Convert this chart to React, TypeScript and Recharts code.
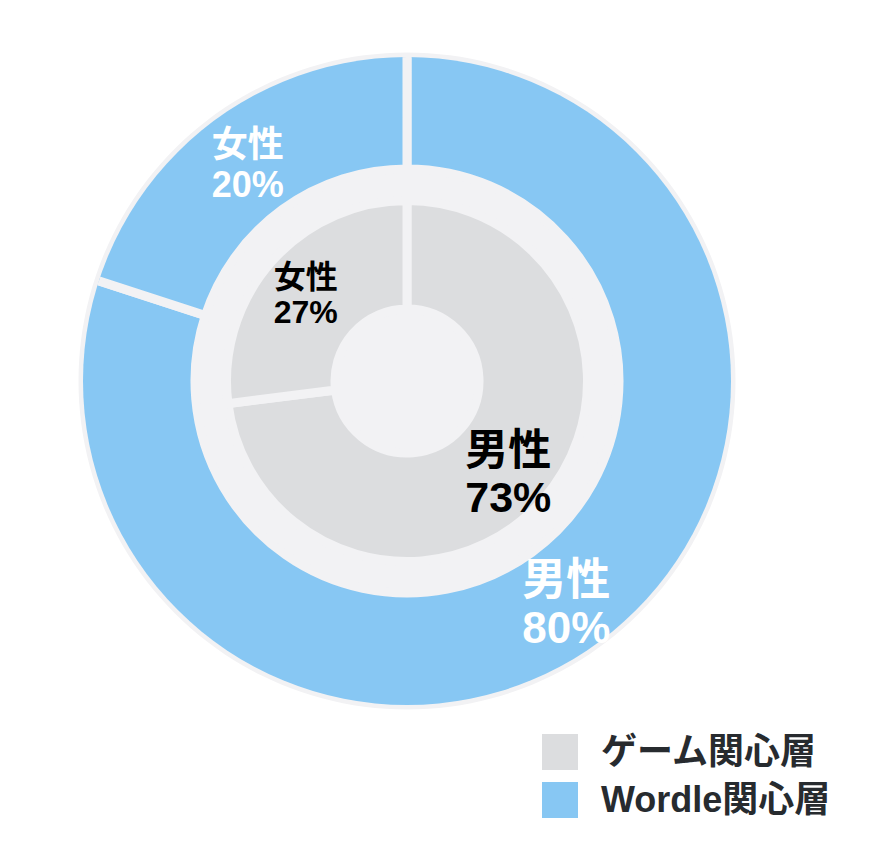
import { PieChart, Pie, Cell } from 'recharts';

// data
const genders = ['男性', '女性'];
const gameShare = [73, 27];
const wordleShare = [80, 20];
const seriesNames = ['ゲーム関心層', 'Wordle関心層'];

const gameData = genders.map((name, i) => ({ name, value: gameShare[i] }));
const wordleData = genders.map((name, i) => ({ name, value: wordleShare[i] }));

const CX = 407;
const CY = 381;
const BG = '#F2F2F4';
const GAP = 9;
const FONT = '"Liberation Sans", "Noto Sans CJK JP", sans-serif';
const RADIAN = Math.PI / 180;

const colors = { game: '#DCDDDF', wordle: '#87C7F3' };

// per ring label look: radius, text colour, font size per slice
const labelStyle = {
  game: { r: 135, fill: '#000000', sizes: [43, 32] },
  wordle: { r: 271, fill: '#FFFFFF', sizes: [44, 36] },
};

const makeLabel = (ring: 'game' | 'wordle') => (props: any) => {
  const { cx, cy, midAngle, index, name, value } = props;
  const st = labelStyle[ring];
  const x = cx + st.r * Math.cos(-midAngle * RADIAN);
  const y = cy + st.r * Math.sin(-midAngle * RADIAN);
  return (
    <text
      x={x}
      y={y}
      textAnchor="middle"
      fill={st.fill}
      fontSize={st.sizes[index]}
      fontWeight={700}
      fontFamily={FONT}
    >
      <tspan x={x} dy="-0.13em">
        {name}
      </tspan>
      <tspan x={x} dy="1.1em">
        {value}%
      </tspan>
    </text>
  );
};

const Legend = () => (
  <div style={{ position: 'absolute', left: 542, top: 734, fontFamily: FONT }}>
    {seriesNames.map((s, i) => (
      <div
        key={s}
        style={{ display: 'flex', alignItems: 'center', height: 36, marginBottom: 12 }}
      >
        <div
          style={{
            width: 36,
            height: 36,
            background: i === 0 ? colors.game : colors.wordle,
          }}
        />
        <span
          style={{
            marginLeft: 23,
            fontSize: 36,
            lineHeight: '36px',
            fontWeight: 700,
            color: '#272B2F',
            whiteSpace: 'nowrap',
          }}
        >
          {s}
        </span>
      </div>
    ))}
  </div>
);

export default function App() {
  return (
    <div style={{ position: 'absolute', left: 0, top: 0, width: 894, height: 866, background: '#fff' }}>
      <svg width={0} height={0} style={{ position: 'absolute' }}>
        <defs>
          <clipPath id="ringClip" clipPathUnits="userSpaceOnUse">
            <circle cx={CX} cy={CY} r={324} />
          </clipPath>
        </defs>
      </svg>
      <style>{`.outer-cell { clip-path: url(#ringClip); }`}</style>
      <PieChart width={894} height={866} margin={{ top: 0, right: 0, bottom: 0, left: 0 }}>
        <Pie
          data={[{ name: 'bg', value: 1 }]}
          dataKey="value"
          cx={CX}
          cy={CY}
          innerRadius={0}
          outerRadius={328.5}
          startAngle={90}
          endAngle={-270}
          stroke="none"
          fill={BG}
          isAnimationActive={false}
        />
        <Pie
          data={wordleData}
          dataKey="value"
          nameKey="name"
          cx={CX}
          cy={CY}
          innerRadius={212}
          outerRadius={330}
          startAngle={90}
          endAngle={-270}
          label={makeLabel('wordle')}
          labelLine={false}
          isAnimationActive={false}
        >
          {wordleData.map((d) => (
            <Cell
              key={d.name}
              className="outer-cell"
              fill={colors.wordle}
              stroke={BG}
              strokeWidth={GAP}
            />
          ))}
        </Pie>
        <Pie
          data={gameData}
          dataKey="value"
          nameKey="name"
          cx={CX}
          cy={CY}
          innerRadius={72}
          outerRadius={180.5}
          startAngle={90}
          endAngle={-270}
          label={makeLabel('game')}
          labelLine={false}
          isAnimationActive={false}
        >
          {gameData.map((d) => (
            <Cell key={d.name} fill={colors.game} stroke={BG} strokeWidth={GAP} />
          ))}
        </Pie>
      </PieChart>
      <Legend />
    </div>
  );
}
